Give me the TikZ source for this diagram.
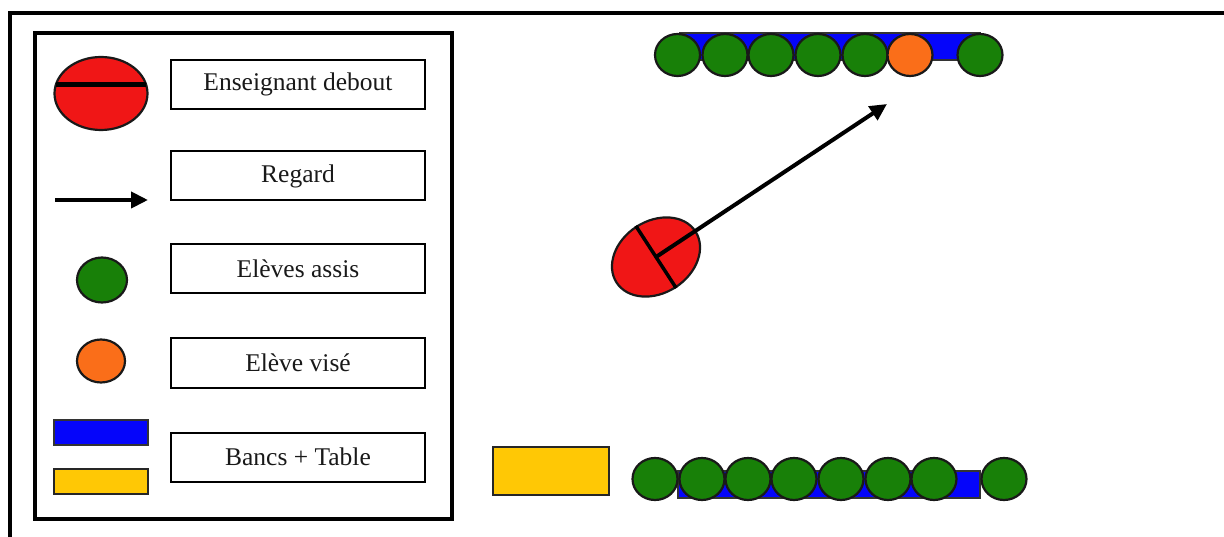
\documentclass[tikz,border=0pt]{standalone}
\usepackage{fontspec}
\setmainfont{Liberation Serif}
\usetikzlibrary{shapes.geometric,arrows.meta,calc}
\definecolor{rougeprof}{RGB}{240,22,22}
\definecolor{vertassis}{RGB}{24,128,8}
\definecolor{orangevise}{RGB}{250,110,25}
\definecolor{bleubanc}{RGB}{5,5,250}
\definecolor{jaunetable}{RGB}{255,200,5}

\begin{document}
\begin{tikzpicture}[x=1pt, y=-1pt,
  libelle/.style={draw, line width=2pt, minimum width=254pt, minimum height=49pt,
    inner sep=0pt, text=black!90, font=\fontsize{25.5}{30}\selectfont},
  personne/.style={ellipse, draw=black!90, line width=2.2pt, inner sep=0pt},
  eleve/.style={personne, fill=vertassis, minimum width=45pt, minimum height=42pt},
  vise/.style={personne, fill=orangevise, minimum width=45pt, minimum height=42pt},
  regard/.style={line width=4pt, -{Triangle[length=17pt,width=16pt]}},
  bancbox/.style={draw=black!80, line width=1.2pt, fill=bleubanc},
  tablebox/.style={draw=black!85, line width=1.8pt, fill=jaunetable}]
  \useasboundingbox (0,0) rectangle (1224,537);

  % cadre de la page
  \draw[line width=3.5pt] (1224,13) -- (10,13) -- (10,537);

  % legende
  \draw[line width=4pt] (35,33) rectangle (452,519);
  \node[personne, fill=rougeprof, minimum width=93pt, minimum height=73pt] (legProf) at (101,93.5) {};
  \draw[line width=4.5pt] ($(legProf.center)+(-45,-9)$) -- ($(legProf.center)+(45,-9)$);
  \coordinate (legA) at (55,200);
  \coordinate (legB) at (148,200);
  \draw[regard] (legA) -- (legB);
  \node[eleve, minimum width=50pt, minimum height=45pt] (legEleve) at (102,280) {};
  \node[vise, minimum width=48pt, minimum height=43pt] (legVise) at (101,361) {};
  \draw[bancbox] (54,420) rectangle (148,445);
  \draw[tablebox] (54,469) rectangle (148,494);

  \node[libelle] (libProf) at (298,84.5) {Enseignant debout};
  \node[libelle] (libRegard) at (298,176) {Regard};
  \node[libelle] (libEleves) at (298,269) {Elèves assis};
  \node[libelle] (libVise) at (298,363) {Elève visé};
  \node[libelle] (libBancs) at (298,457) {Bancs + Table};

  % rang du haut
  \draw[bancbox] (680,33) rectangle (980,60);
  \foreach \i/\x in {1/677.5,2/725,3/771,4/818,5/865}
    \node[eleve] (haut\i) at (\x,55) {};
  \node[vise] (cibleEleve) at (910,55) {};
  \node[eleve] (haut7) at (980,55) {};

  % rang du bas
  \draw[tablebox] (493,447) rectangle (609,495);
  \draw[bancbox] (678,471) rectangle (980,498);
  \foreach \i/\x in {1/655,2/702,3/748,4/794,5/841,6/888,7/934,8/1004}
    \node[eleve] (bas\i) at (\x,479) {};

  % enseignant et regard
  \node[personne, fill=rougeprof, rotate=33, minimum width=94pt, minimum height=72pt] (prof) at (656,257) {};
  \draw[line width=3.5pt] (prof.north) -- (prof.south);
  \coordinate (finRegard) at (887,104);
  \draw[regard] (prof.center) -- (finRegard);
\end{tikzpicture}
\end{document}
